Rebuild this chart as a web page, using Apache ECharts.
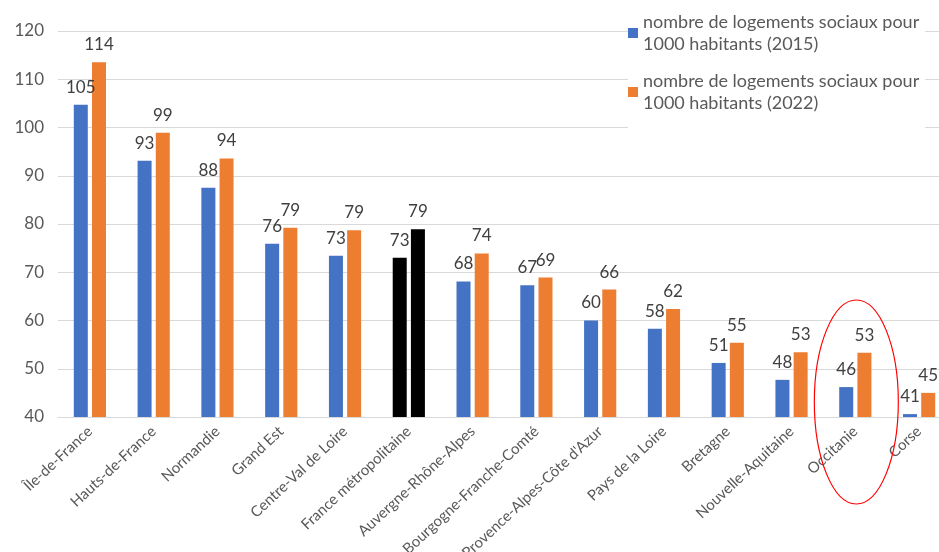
<!DOCTYPE html>
<html>
<head>
<meta charset="utf-8">
<script src="https://cdn.jsdelivr.net/npm/echarts@6/dist/echarts.min.js"></script>
<style>
    html, body { margin: 0; padding: 0; background: #fff; }
    #chart { width: 939px; height: 552px; }
</style>
</head>
<body>
<div id="chart"></div>
<script>
var regions = ["Île-de-France", "Hauts-de-France", "Normandie", "Grand Est", "Centre-Val de Loire",
    "France métropolitaine", "Auvergne-Rhône-Alpes", "Bourgogne-Franche-Comté",
    "Provence-Alpes-Côte d'Azur", "Pays de la Loire", "Bretagne", "Nouvelle-Aquitaine",
    "Occitanie", "Corse"];
var values2015 = [104.7, 93.1, 87.5, 75.9, 73.4, 73.0, 68.1, 67.3, 60.0, 58.3, 51.2, 47.7, 46.2, 40.6];
var values2022 = [113.5, 98.9, 93.6, 79.2, 78.7, 78.9, 73.9, 68.9, 66.4, 62.4, 55.4, 53.4, 53.3, 45.0];
var seriesNames = ["nombre de logements sociaux pour\n1000 habitants (2015)",
    "nombre de logements sociaux pour\n1000 habitants (2022)"];
var highlightRegion = "France métropolitaine";
var circledRegion = "Occitanie";

var BLUE = "#4472C4", ORANGE = "#ED7D31", FONT = "Lato, 'Open Sans', sans-serif";

function toData(values) {
    return values.map(function (v, i) {
        if (regions[i] === highlightRegion) {
            return {value: v, itemStyle: {color: "#000000"}};
        }
        return v;
    });
}

function barSeries(name, values, color) {
    return {
        name: name,
        type: "bar",
        data: toData(values),
        barWidth: 14,
        barGap: "30%",
        itemStyle: {color: color},
        label: {
            show: true,
            position: "top",
            distance: 9,
            color: "#404040",
            fontSize: 17,
            fontFamily: FONT,
            formatter: function (p) {
                return Math.round(p.value);
            }
        }
    };
}

var chart = echarts.init(document.getElementById("chart"));
chart.setOption({
    animation: false,
    textStyle: {fontFamily: FONT},
    grid: {left: 58, top: 31, right: -12, bottom: 135, containLabel: false, outerBoundsMode: "none"},
    legend: {
        orient: "vertical",
        left: 628,
        top: 0,
        itemWidth: 10,
        itemHeight: 10,
        itemGap: -7,
        icon: "rect",
        backgroundColor: "#ffffff",
        padding: [0, 6, 4, 0],
        textStyle: {color: "#595959", fontSize: 18, lineHeight: 22, padding: [22, 0, 0, 0]},
        data: [seriesNames[0], seriesNames[1]]
    },
    xAxis: {
        type: "category",
        data: regions,
        axisLine: {lineStyle: {color: "#d9d9d9"}},
        axisTick: {show: false},
        axisLabel: {rotate: 43, interval: 0, color: "#595959", fontSize: 15, margin: 12}
    },
    yAxis: {
        type: "value",
        min: 40,
        max: 120,
        interval: 10,
        axisLabel: {color: "#595959", fontSize: 17, margin: 14},
        splitLine: {lineStyle: {color: "#d9d9d9"}}
    },
    series: [
        barSeries(seriesNames[0], values2015, BLUE),
        barSeries(seriesNames[1], values2022, ORANGE)
    ]
});

// red ellipse around the circled region
var cx = chart.convertToPixel({xAxisIndex: 0}, circledRegion);
chart.setOption({
    graphic: [{
        type: "ellipse",
        shape: {cx: cx + 1, cy: 402, rx: 42, ry: 102},
        style: {fill: null, stroke: "#ff0000", lineWidth: 1.2},
        z: 100
    }]
});
</script>
</body>
</html>
